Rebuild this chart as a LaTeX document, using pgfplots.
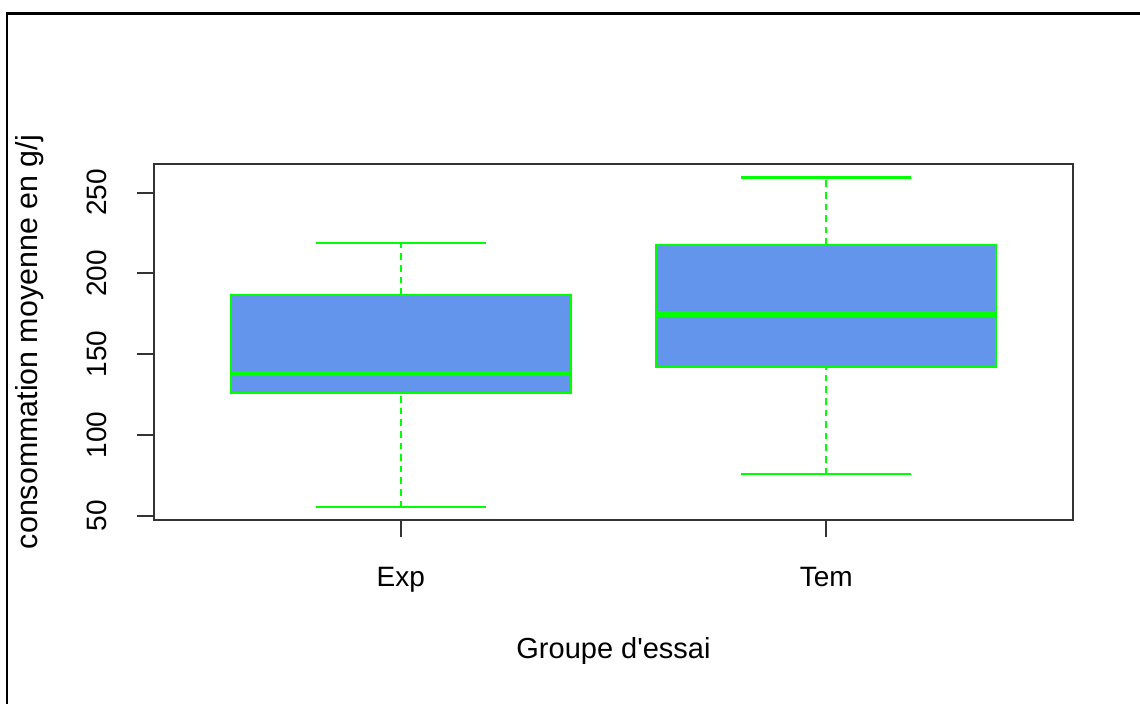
\documentclass[border=0pt]{standalone}
\usepackage{fontspec}
\setmainfont{Liberation Sans}
\usepackage{pgfplots}
\pgfplotsset{compat=1.18}

\definecolor{boxfill}{RGB}{100,149,237}
\definecolor{boxline}{RGB}{0,255,0}
\definecolor{axisgray}{RGB}{51,51,51}

\pgfplotsset{
  whisker/.style={boxline, line width=1.1pt, dash pattern=on 3.3pt off 2.5pt},
  staple/.style={boxline, line width=1.1pt},
  box/.style={fill=boxfill, draw=boxline, line width=1pt},
  med/.style={boxline, line width=2.6pt},
}

\begin{document}
\fontsize{14}{16.8}\selectfont
\begin{tikzpicture}
% page area and frame lines
\useasboundingbox (0,0) rectangle (570pt,352pt);
\draw[black, line width=1.2pt] (3.5pt,0pt) -- (3.5pt,345.3pt) -- (570pt,345.3pt);

\begin{axis}[
  at={(77pt,92pt)}, anchor=south west,
  width=459.5pt, height=177.9pt, scale only axis,
  xmin=0.42, xmax=2.58, ymin=47.3, ymax=267.6,
  xtick={1,2}, xticklabels={Exp,Tem},
  ytick={50,100,150,200,250},
  tick pos=left, tick align=outside,
  major tick length=8.5pt,
  axis line style={axisgray, line width=1pt},
  every tick/.style={axisgray, line width=1pt},
  /pgf/number format/assume math mode=true,
  xticklabel style={anchor=base, yshift=-25pt},
  yticklabel style={xshift=-15pt, rotate=90, anchor=base},
  xlabel={\fontsize{14.5}{17}\selectfont Groupe d\textquotesingle essai},
  ylabel={\fontsize{15.2}{18}\selectfont consommation moyenne en g/j},
  every axis x label/.style={at={(axis description cs:0.5,0)}, anchor=base, yshift=-69.5pt},
  every axis y label/.style={at={(axis description cs:0,0.5)}, xshift=-58pt, rotate=90, anchor=base},
]
% Exp: whiskers 55.2 / 219.0, quartiles 125.8 / 186.7, median 138.2
\addplot[whisker] coordinates {(1,55.2) (1,125.8)};
\addplot[whisker] coordinates {(1,186.7) (1,219.0)};
\addplot[staple] coordinates {(0.8,55.2) (1.2,55.2)};
\addplot[staple] coordinates {(0.8,219.0) (1.2,219.0)};
\addplot[box] coordinates {(0.6,125.8) (1.4,125.8) (1.4,186.7) (0.6,186.7)} -- cycle;
\addplot[med] coordinates {(0.6,138.2) (1.4,138.2)};

% Tem: whiskers 75.6 / 259.3, quartiles 142.3 / 217.6, median 174.9
\addplot[whisker] coordinates {(2,75.6) (2,142.3)};
\addplot[whisker] coordinates {(2,217.6) (2,259.3)};
\addplot[staple] coordinates {(1.8,75.6) (2.2,75.6)};
\addplot[staple] coordinates {(1.8,259.3) (2.2,259.3)};
\addplot[box] coordinates {(1.6,142.3) (2.4,142.3) (2.4,217.6) (1.6,217.6)} -- cycle;
\addplot[med] coordinates {(1.6,174.9) (2.4,174.9)};
\end{axis}
\end{tikzpicture}
\end{document}
